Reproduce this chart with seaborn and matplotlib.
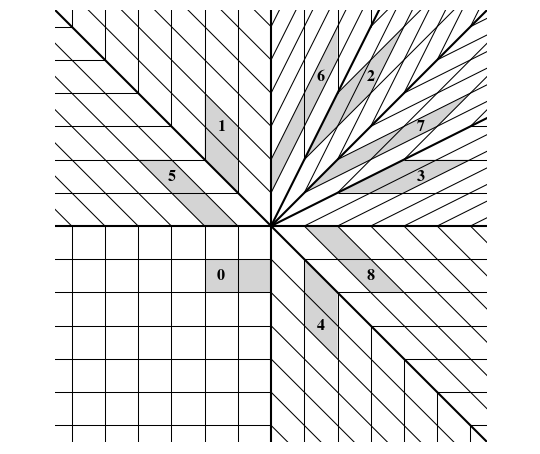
import numpy as np
import matplotlib
matplotlib.use("Agg")
import matplotlib.pyplot as plt
from matplotlib.collections import LineCollection
from matplotlib.patches import Polygon
import seaborn as sns

# rayons du eventail (sens trigonometrique)
rays = [(1, 0), (2, 1), (1, 1), (1, 2), (0, 1), (-1, 1), (-1, 0), (0, -1), (1, -1)]
# secteurs: paires de rayons consecutifs
sectors = [((1, 0), (2, 1)), ((2, 1), (1, 1)), ((1, 1), (1, 2)), ((1, 2), (0, 1)),
           ((0, 1), (-1, 1)), ((-1, 1), (-1, 0)), ((-1, 0), (0, -1)),
           ((0, -1), (1, -1)), ((1, -1), (1, 0))]
# pieces grisees: secteur, etiquette, position de l'etiquette
shade_sector = [6, 7, 8, 0, 1, 2, 3, 4, 5]
shade_label = ["0", "4", "8", "3", "7", "2", "6", "1", "5"]
label_x = [-1.5, 1.5, 3, 4.5, 4.5, 3, 1.5, -1.5, -3]
label_y = [-1.5, -3, -1.5, 1.5, 3, 4.5, 4.5, 3, 1.5]

L = 6.5
K = 14
sns.set_theme(style="white")
plt.rcParams["mathtext.fontset"] = "stix"
fig = plt.figure(figsize=(5.4, 4.54), dpi=100)
ax = fig.add_axes([0.102, 0.0264, 0.8, 0.9515])

# pieces grisees
for s, lab, lx, ly in zip(shade_sector, shade_label, label_x, label_y):
    u, v = np.array(sectors[s][0]), np.array(sectors[s][1])
    pts = [1 * v, 2 * u + 1 * v, 2 * u + 2 * v, 2 * v]
    ax.add_patch(Polygon(pts, closed=True, facecolor="#d4d4d4", edgecolor="none", zorder=1))
    ax.text(lx, ly, r"$\mathbf{" + lab + "}$", ha="center", va="center", fontsize=11.5,
            color="black", zorder=5)

# reseau de chaque secteur
segs = []
for u, v in sectors:
    u, v = np.array(u), np.array(v)
    for k in range(1, K):
        segs.append([k * v, k * v + 20 * u])
        segs.append([k * u, k * u + 20 * v])
ax.add_collection(LineCollection(segs, colors="black", linewidths=0.75, zorder=2))

# rayons epais
thick = [[(0, 0), (20 * r[0], 20 * r[1])] for r in rays]
ax.add_collection(LineCollection(thick, colors="black", linewidths=1.5, zorder=3))

ax.set_xlim(-L, L)
ax.set_ylim(-L, L)
ax.set_aspect("equal")
ax.axis("off")
fig.savefig("out.png", dpi=100)
